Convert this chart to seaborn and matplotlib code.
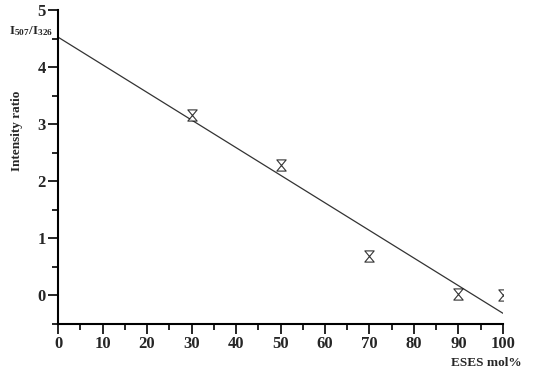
import numpy as np
import matplotlib
matplotlib.use("Agg")
import matplotlib.pyplot as plt
from matplotlib.path import Path
from matplotlib.ticker import MultipleLocator
import seaborn as sns

# ESES content (mol%) and measured intensity ratio I507/I326
eses_mol = np.array([30, 50, 70, 90, 100])
intensity_ratio = np.array([3.16, 2.28, 0.70, 0.03, 0.01])

sns.set_style("ticks")
plt.rcParams["font.family"] = ["Liberation Serif", "DejaVu Serif"]
plt.rcParams["font.weight"] = "bold"
plt.rcParams["mathtext.fontset"] = "custom"
plt.rcParams["mathtext.rm"] = "Liberation Serif"
plt.rcParams["mathtext.bf"] = "Liberation Serif:bold"

# hourglass marker
hourglass = Path([(-1, 1.2), (1, 1.2), (-1, -1.2), (1, -1.2), (-1, 1.2)],
                 [Path.MOVETO, Path.LINETO, Path.LINETO, Path.LINETO, Path.CLOSEPOLY])

fig = plt.figure(figsize=(5.5, 3.75), dpi=100)
ax = fig.add_axes([0.1055, 0.136, 0.809, 0.837])
ax.set_xlim(0, 100)
ax.set_ylim(-0.5, 5)

sns.regplot(x=eses_mol, y=intensity_ratio, ax=ax, ci=None, truncate=False,
            marker=hourglass,
            scatter_kws=dict(s=65, facecolor="white", edgecolor="black",
                             linewidths=0.8, zorder=3),
            line_kws=dict(color="#333333", lw=0.9, zorder=2))

ax.set_xlim(0, 100)
ax.set_ylim(-0.5, 5)
ax.set_xlabel("")
ax.set_ylabel("")

ax.xaxis.set_major_locator(MultipleLocator(10))
ax.xaxis.set_minor_locator(MultipleLocator(5))
ax.yaxis.set_major_locator(MultipleLocator(1))
ax.yaxis.set_minor_locator(MultipleLocator(0.5))
ax.set_yticks([0, 1, 2, 3, 4, 5])
ax.tick_params(axis="both", which="major", direction="out", length=7,
               width=1.2, labelsize=12, color="black", pad=2)
ax.tick_params(axis="both", which="minor", direction="out", length=4,
               width=1.2, color="black")
for lab in ax.get_xticklabels() + ax.get_yticklabels():
    lab.set_fontweight("bold")

for side in ["top", "right"]:
    ax.spines[side].set_visible(False)
for side in ["left", "bottom"]:
    ax.spines[side].set_linewidth(1.5)
    ax.spines[side].set_color("black")

fig.text(0.031, 0.65, "Intensity ratio", rotation=90, ha="center", va="center",
         fontsize=9.5, fontweight="bold")
fig.text(0.056, 0.917, r"$\mathbf{I_{507}/I_{326}}$", ha="center", va="center",
         fontsize=9.5)
fig.text(0.885, 0.032, "ESES mol%", ha="center", va="center",
         fontsize=9.5, fontweight="bold")

fig.savefig("out.png", dpi=100)
